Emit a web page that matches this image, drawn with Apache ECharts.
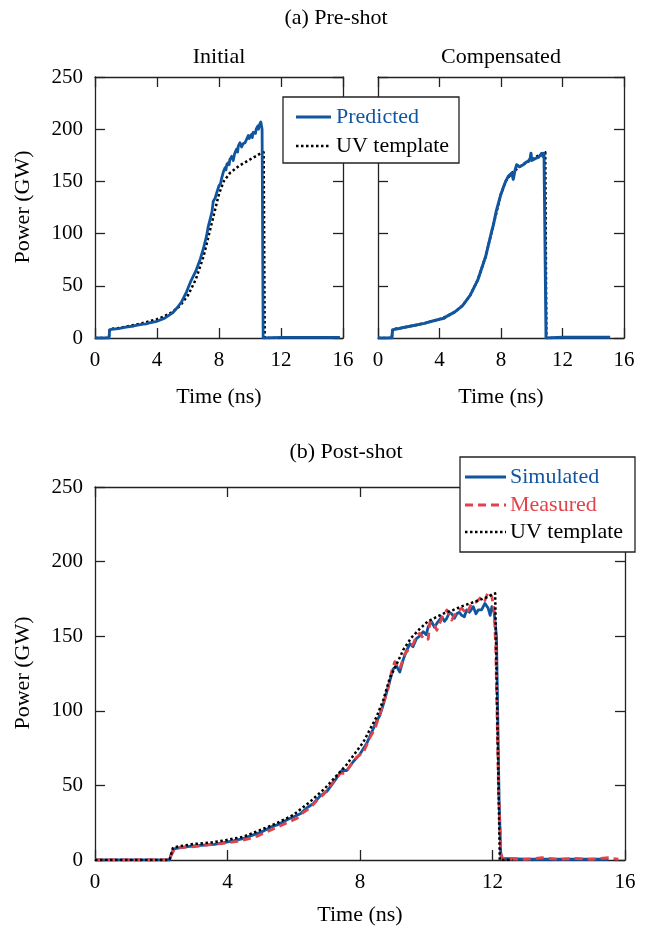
<!DOCTYPE html>
<html>
<head>
<meta charset="utf-8">
<script src="https://cdn.jsdelivr.net/npm/echarts@6/dist/echarts.min.js"></script>
<style>html,body{margin:0;padding:0;background:#fff;}#c{width:646px;height:929px;}</style>
</head>
<body>
<div id="c"></div>
<script>
// ---- data (time in ns, power in GW) ----
const xTicks = [0, 4, 8, 12, 16];
const yTicks = [0, 50, 100, 150, 200, 250];

const preTemplate = [[0,0],[0.9,0],[0.95,8.5],[1.5,9.5],[2,11],[2.5,12.5],[3,14],[3.5,16],[4,18],[4.5,21],[5,25],[5.5,31],[6,41],[6.5,56],[7,78],[7.5,108],[8,138],[8.3,150],[8.7,158],[9.3,165],[10,171],[10.7,177],[10.88,178],[10.95,0],[12,0]];

const preInitial = [[0,0],[0.9,0],[0.95,8],[1.2,8.5],[1.5,9],[2,10.5],[2.5,11.5],[3,13],[3.3,13.5],[3.5,14.5],[4,16],[4.5,19],[5,24],[5.3,29],[5.6,35],[5.9,44],[6.2,55],[6.5,64],[6.8,76],[7.0,86],[7.2,98],[7.31,107],[7.45,115],[7.55,121],[7.63,131],[7.75,134],[7.85,139],[8.0,146],[8.1,148],[8.17,153],[8.25,152],[8.3,160],[8.39,163],[8.45,161],[8.5,166],[8.6,168],[8.65,166],[8.7,171],[8.82,174],[8.92,170],[9.0,176],[9.07,179],[9.14,181],[9.2,178],[9.25,184],[9.35,187],[9.46,183],[9.55,186],[9.62,185],[9.68,187],[9.8,191],[9.89,194],[9.95,191],[10.0,193],[10.1,195],[10.15,192],[10.2,197],[10.3,198],[10.35,196],[10.4,200],[10.5,203],[10.55,200],[10.6,204],[10.7,207],[10.78,200],[10.85,0],[12,0.6],[14,0.6],[15.8,0.6]];

const preCompensated = [[0,0],[0.9,0],[0.95,8],[1.2,8.5],[1.5,9.5],[2,11],[2.5,12.5],[3,14],[3.5,16],[4,18],[4.3,19],[4.5,21],[5,25],[5.5,31],[6,41],[6.5,56],[7,78],[7.39,102],[7.5,108],[7.7,122],[8,138],[8.2,146],[8.3,150],[8.48,155],[8.6,156],[8.7,158],[8.8,152],[8.9,160],[9.02,166],[9.2,164],[9.3,165],[9.45,166],[9.6,168],[9.78,169.5],[9.9,172],[9.95,177],[10.0,170],[10.1,171],[10.25,172],[10.43,173],[10.55,175],[10.65,177],[10.72,174],[10.8,177],[10.88,176],[10.93,0],[12,0.6],[14,0.6],[15.1,0.6]];

const postTemplate = [[0,0],[2.25,0],[2.35,8],[2.47,8.9],[2.97,10.7],[3.47,11.6],[3.97,13.4],[4.48,15.6],[4.98,20],[5.48,24.6],[5.99,30.2],[6.49,39],[6.94,48],[7.6,64],[8.1,79],[8.5,96],[8.7,107],[8.9,122],[9.1,131],[9.31,141],[9.55,149],[9.81,155],[10.05,160],[10.32,163],[10.55,165.5],[10.82,167.6],[11.07,170],[11.32,172],[11.57,174],[11.82,176],[12.08,178.7],[12.13,178],[12.22,0],[12.6,0]];

const postSimulated = [[0,0],[2.25,0],[2.3,4],[2.38,7.5],[2.5,8],[2.8,9],[3.0,9.5],[3.3,10],[3.6,10.5],[3.97,12],[4.2,13],[4.5,14.5],[4.8,17],[5.0,18.5],[5.3,22],[5.5,23.5],[5.8,27],[6.0,29],[6.2,31],[6.4,35],[6.6,38],[6.8,43],[7.0,46],[7.2,52],[7.45,60],[7.6,60],[7.8,66],[8.0,71],[8.2,78],[8.4,88],[8.5,93],[8.6,97],[8.7,104],[8.8,112],[8.9,120],[9.0,128],[9.1,130],[9.2,126],[9.3,134],[9.4,140],[9.51,145],[9.6,143],[9.71,148.6],[9.8,150],[9.91,153],[10.0,151],[10.06,156.4],[10.16,159.7],[10.25,156],[10.32,158.6],[10.4,161],[10.47,163],[10.55,160],[10.62,162],[10.7,166],[10.77,165],[10.85,162],[10.92,165],[11.0,166],[11.07,164],[11.15,163],[11.22,167.6],[11.3,166],[11.42,169.8],[11.5,165],[11.57,167.6],[11.67,167.6],[11.77,172],[11.87,168.7],[11.93,164],[11.98,169.8],[12.05,166],[12.12,150],[12.2,40],[12.25,3],[12.3,1],[13,0.5],[14,0.5],[15,0.5],[15.5,0.5]];

const postMeasured = [[0,0],[2.25,0],[2.3,3],[2.4,7.5],[2.6,8.5],[2.9,8.8],[3.2,9.5],[3.5,10.5],[3.8,11],[4.0,11.5],[4.3,12.5],[4.6,14],[4.9,16],[5.1,18],[5.4,21],[5.6,23],[5.9,26],[6.1,28],[6.3,32],[6.5,35],[6.7,40],[6.9,44],[7.1,50],[7.3,55],[7.4,58],[7.55,58],[7.7,63],[7.9,69],[8.1,72],[8.3,82],[8.45,88],[8.6,98],[8.75,108],[8.85,115],[8.95,126],[9.05,133],[9.2,128],[9.35,138],[9.5,142],[9.61,145],[9.7,150],[9.8,152],[9.95,147.5],[10.06,148],[10.11,159.7],[10.2,160],[10.32,154],[10.47,162],[10.62,167.6],[10.77,160.8],[10.92,166.4],[11.07,168.7],[11.22,165],[11.37,172],[11.52,173],[11.67,176.5],[11.77,174],[11.87,179.8],[11.98,176.5],[12.05,167.6],[12.1,140],[12.18,50],[12.25,5],[12.3,1],[13,0.5],[13.5,1.5],[14,0.5],[14.5,1],[15,0.5],[15.5,1.5],[15.8,0.5]];

const legendTop = ['Predicted', 'UV template'];
const legendBottom = ['Simulated', 'Measured', 'UV template'];

// ---- styling ----
const FONT = "'Liberation Serif', 'Times New Roman', serif";
const FS = 21;      // tick labels
const FT = 22;      // titles, axis names, legend
const BLUE = '#11559f';
const RED = '#e2434b';
const BLACK = '#000';
const DOT = [2.5, 2.5];
const DASH = [8, 5];

function xAx(grid, top, showLabel) {
  return {
    type: 'value', gridIndex: grid, position: top ? 'top' : 'bottom',
    min: 0, max: 16, interval: 4,
    axisLine: {show: true, onZero: false, lineStyle: {color: '#222', width: 1.3}},
    axisTick: {show: true, inside: true, length: 10, lineStyle: {color: '#222', width: 1.3}},
    axisLabel: {show: showLabel, margin: 12, color: '#000', fontFamily: FONT, fontSize: FS},
    splitLine: {show: false}
  };
}
function yAx(grid, right, showLabel) {
  return {
    type: 'value', gridIndex: grid, position: right ? 'right' : 'left',
    min: 0, max: 250, interval: 50,
    axisLine: {show: true, onZero: false, lineStyle: {color: '#222', width: 1.3}},
    axisTick: {show: true, inside: true, length: 10, lineStyle: {color: '#222', width: 1.3}},
    axisLabel: {show: showLabel, margin: 12, color: '#000', fontFamily: FONT, fontSize: FS},
    splitLine: {show: false}
  };
}
function line(name, data, xi, yi, color, type, width, z) {
  return {
    type: 'line', name: name, data: data, xAxisIndex: xi, yAxisIndex: yi,
    showSymbol: false, symbol: 'none', animation: false, z: z,
    lineStyle: {color: color, width: width, type: type, cap: 'butt', join: 'round'},
    itemStyle: {color: color}
  };
}
function txt(s, x, y, rot, align, color) {
  return {type: 'text', x: x, y: y, rotation: rot || 0, z: 101,
    style: {text: s, fill: color || '#000', font: FT + 'px ' + FONT, textAlign: align || 'center', textVerticalAlign: 'middle'}};
}
function seg(x1, x2, y, color, dash, w) {
  return {type: 'line', z: 101, shape: {x1: x1, y1: y, x2: x2, y2: y},
    style: {stroke: color, lineWidth: w, lineDash: dash, lineCap: 'butt'}};
}
function box(x, y, w, h) {
  return {type: 'rect', z: 100, shape: {x: x, y: y, width: w, height: h},
    style: {fill: '#fff', stroke: '#222', lineWidth: 1.3}};
}

const chart = echarts.init(document.getElementById('c'));
chart.setOption({
  animation: false,
  backgroundColor: '#fff',
  grid: [
    {left: 95, top: 77, width: 248, height: 261},
    {left: 378, top: 77, width: 246, height: 261},
    {left: 95, top: 487, width: 530, height: 373}
  ],
  xAxis: [xAx(0,false,true), xAx(0,true,false), xAx(1,false,true), xAx(1,true,false), xAx(2,false,true), xAx(2,true,false)],
  yAxis: [yAx(0,false,true), yAx(0,true,false), yAx(1,false,false), yAx(1,true,false), yAx(2,false,true), yAx(2,true,false)],
  series: [
    line('UV template', preTemplate, 0, 0, BLACK, DOT, 2.5, 2),
    line('Predicted', preInitial, 0, 0, BLUE, 'solid', 2.8, 3),
    line('UV template', preTemplate, 2, 2, BLACK, DOT, 2.5, 2),
    line('Predicted', preCompensated, 2, 2, BLUE, 'solid', 3, 3),
    line('Simulated', postSimulated, 4, 4, BLUE, 'solid', 2.8, 2),
    line('Measured', postMeasured, 4, 4, RED, DASH, 2.8, 3),
    line('UV template', postTemplate, 4, 4, BLACK, DOT, 2.5, 4)
  ],
  graphic: [
    txt('(a) Pre-shot', 336, 18),
    txt('Initial', 219, 57),
    txt('Compensated', 501, 57),
    txt('(b) Post-shot', 346, 452),
    txt('Time (ns)', 219, 397),
    txt('Time (ns)', 501, 397),
    txt('Time (ns)', 360, 915),
    txt('Power (GW)', 23, 207, Math.PI / 2),
    txt('Power (GW)', 23, 673, Math.PI / 2),
    // legend (a)
    box(283, 97, 176, 66),
    seg(296, 331, 117, BLUE, null, 2.8),
    txt(legendTop[0], 336, 117, 0, 'left', BLUE),
    seg(296, 331, 146, BLACK, DOT, 2.5),
    txt(legendTop[1], 336, 146, 0, 'left', BLACK),
    // legend (b)
    box(460, 457, 175, 95),
    seg(465, 506, 477, BLUE, null, 2.8),
    txt(legendBottom[0], 510, 477, 0, 'left', BLUE),
    seg(465, 506, 505, RED, DASH, 2.8),
    txt(legendBottom[1], 510, 505, 0, 'left', RED),
    seg(465, 506, 532, BLACK, DOT, 2.5),
    txt(legendBottom[2], 510, 532, 0, 'left', BLACK)
  ]
});
</script>
</body>
</html>
